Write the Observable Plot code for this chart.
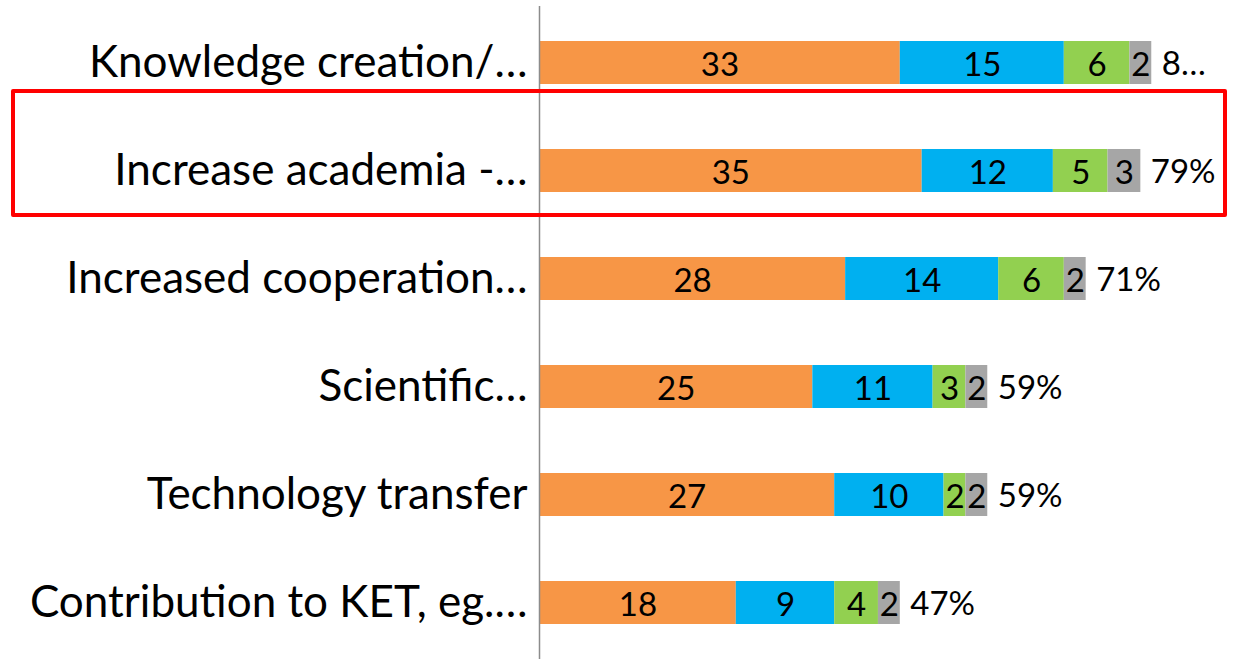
<!DOCTYPE html>
<html>
<head>
<meta charset="utf-8">
<script src="https://cdn.jsdelivr.net/npm/d3@7"></script>
<script src="https://cdn.jsdelivr.net/npm/@observablehq/plot@0.6"></script>
<style>
  html, body { margin: 0; padding: 0; background: #fff; }
  #wrap { position: relative; width: 1233px; height: 659px; overflow: hidden; }
  #highlight { position: absolute; left: 11px; top: 89px; width: 1216px; height: 128px;
    box-sizing: border-box; border: 4px solid #FF0000; border-radius: 2px; pointer-events: none; }
</style>
</head>
<body>
<div id="wrap"><div id="highlight"></div></div>
<script>
const categories = [
  "Knowledge creation/…",
  "Increase academia -…",
  "Increased cooperation…",
  "Scientific…",
  "Technology transfer",
  "Contribution to KET, eg.…"
];
const seriesNames = ["Series 1", "Series 2", "Series 3", "Series 4"];
const series1 = [33, 35, 28, 25, 27, 18];
const series2 = [15, 12, 14, 11, 10, 9];
const series3 = [6, 5, 6, 3, 2, 4];
const series4 = [2, 3, 2, 2, 2, 2];
const totalLabels = ["8…", "79%", "71%", "59%", "59%", "47%"];
const colors = ["#F79646", "#00B0F0", "#92D050", "#A6A6A6"];

const allSeries = [series1, series2, series3, series4];
const rows = [];
allSeries.forEach((vals, si) => {
  vals.forEach((v, ci) => rows.push({category: categories[ci], series: seriesNames[si], value: v}));
});
const totals = categories.map((c, i) => ({
  category: c,
  total: allSeries.reduce((s, arr) => s + arr[i], 0),
  label: totalLabels[i]
}));

const font = "Lato, 'Open Sans', sans-serif";

const chart = Plot.plot({
  width: 1233,
  height: 659,
  marginLeft: 539,
  marginRight: 38,
  marginTop: 6,
  marginBottom: 0,
  style: {fontFamily: font, background: "#fff", color: "#000", overflow: "visible"},
  x: {domain: [0, 60], axis: null},
  y: {domain: categories, paddingInner: 0.6, paddingOuter: 0.3, label: null},
  color: {domain: seriesNames, range: colors},
  marks: [
    Plot.barX(rows, Plot.stackX({x: "value", y: "category", fill: "series", z: "series", inset: 0})),
    Plot.text(rows, Plot.stackX({x: "value", y: "category", z: "series", text: d => String(d.value),
      fontSize: 33, fill: "#000", dy: 2})),
    Plot.text(totals, {x: "total", y: "category", text: "label", textAnchor: "start", dx: 10,
      fontSize: 33, fill: "#000", dy: 1}),
    Plot.ruleX([0], {stroke: "#8c8c8c", strokeWidth: 1.5}),
    Plot.axisY({tickSize: 0, tickPadding: 12, fontSize: 44, label: null})
  ]
});
document.getElementById("wrap").prepend(chart);
</script>
</body>
</html>
